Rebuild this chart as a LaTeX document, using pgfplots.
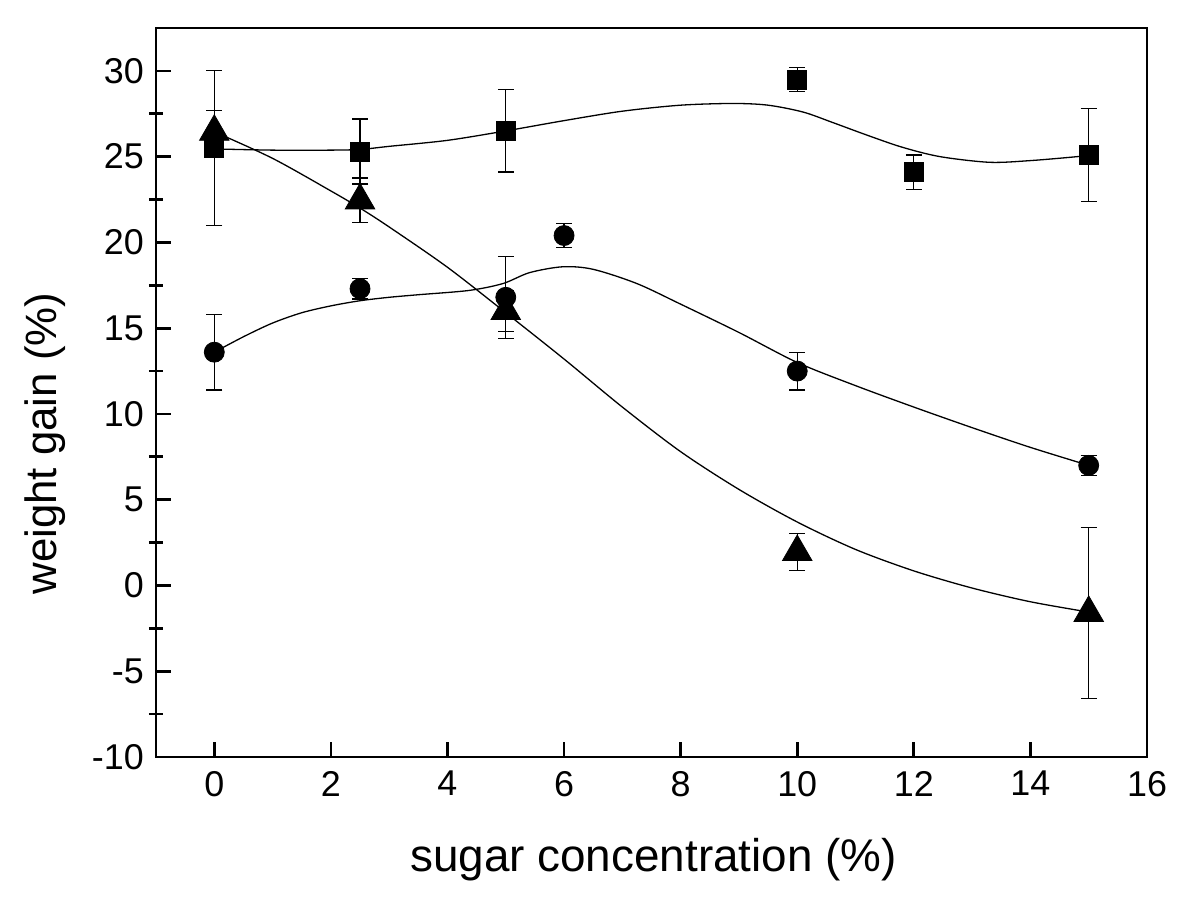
\documentclass[border=0pt]{standalone}
\usepackage{fontspec}
\setmainfont{Liberation Sans}
\usepackage{pgfplots}
\usepackage{pgfplotstable}
\pgfplotsset{compat=1.18}

% measured points: x  y  error
\pgfplotstableread{
x y e
0 25.5 4.5
2.5 25.3 1.9
5 26.5 2.4
10 29.5 0.7
12 24.1 1.0
15 25.1 2.7
}\squares
\pgfplotstableread{
x y e
0 13.6 2.2
2.5 17.3 0.6
5 16.8 2.4
6 20.4 0.7
10 12.5 1.1
15 7.0 0.6
}\circles
\pgfplotstableread{
x y e
0 26.45 1.25
2.5 22.45 1.3
5 16.0 1.2
10 1.95 1.1
15 -1.6 5.0
}\triangles

% smoothed curves
\pgfplotstableread{
x y
0 25.45
1 25.38
2 25.38
2.5 25.42
3 25.6
4 25.95
5 26.5
6 27.1
7 27.65
8 28.0
8.9 28.1
9.5 28.0
10.1 27.6
10.6 27.0
11.2 26.25
11.8 25.55
12.45 25.0
13.3 24.67
14 24.77
14.8 25.0
15 25.1
}\squarecurve
\pgfplotstableread{
x y
0 13.6
0.5 14.5
1 15.3
1.5 15.9
2 16.3
2.5 16.6
3 16.8
3.5 16.95
4.37 17.2
4.95 17.6
5.41 18.24
5.98 18.58
6.5 18.43
7.25 17.6
8 16.4
9 14.75
10 13.0
11 11.65
12 10.4
13 9.2
14 8.05
15 7.0
}\circlecurve
\pgfplotstableread{
x y
0 26.45
1 24.9
2 23.0
2.5 22.0
3 20.9
4 18.55
5 15.9
6 13.2
7 10.4
8 7.8
9 5.6
10 3.7
11 2.1
12 0.85
13 -0.15
14 -0.95
15 -1.55
}\trianglecurve

\begin{document}
\begin{tikzpicture}
\pgfplotsset{
  common/.style={
    scale only axis, width=495.5bp, height=364.5bp,
    xmin=-1, xmax=16, ymin=-10, ymax=32.5,
    axis line style={line width=1.35bp},
    every tick/.style={line width=1.35bp, black},
  }
}
\begin{axis}[
  common,
  name=main,
  xtick={0,2,...,16}, ytick={-10,-5,...,30},
  minor ytick={-7.5,-2.5,...,27.5},
  tick align=inside,
  xtick pos=left, ytick pos=left,
  major tick length=7.5bp, minor tick length=7bp,
  minor y tick style={xshift=-3.5bp},
  /pgf/number format/assume math mode=true,
  tick label style={font=\fontsize{18}{21}\selectfont},
  xticklabel style={yshift=-3.5bp},
  yticklabel style={xshift=-2.6bp},
  xlabel={sugar concentration (\%)},
  ylabel={weight gain (\%)},
  xlabel style={font=\fontsize{23}{27}\selectfont, at={(axis description cs:0.502,0)}, anchor=base, yshift=-57bp},
  ylabel style={font=\fontsize{22}{26}\selectfont, at={(axis description cs:-0.112,0.43)}, anchor=center, rotate=0},
  clip=false,
]
% curves
\addplot[black, line width=0.65bp, smooth, tension=0.5] table[x=x,y=y] {\squarecurve};
\addplot[black, line width=0.65bp, smooth, tension=0.5] table[x=x,y=y] {\circlecurve};
\addplot[black, line width=0.65bp, smooth, tension=0.5] table[x=x,y=y] {\trianglecurve};
% data with error bars
\addplot[only marks, mark=square*, mark size=4.75bp, black,
  error bars/.cd, y dir=both, y explicit,
  error bar style={line width=0.6bp, black},
  error mark options={rotate=90, mark size=4bp, line width=0.6bp, black}]
  table[x=x, y=y, y error=e] {\squares};
\addplot[only marks, mark=*, mark size=5bp, black,
  error bars/.cd, y dir=both, y explicit,
  error bar style={line width=0.6bp, black},
  error mark options={rotate=90, mark size=4bp, line width=0.6bp, black}]
  table[x=x, y=y, y error=e] {\circles};
\addplot[only marks, mark=triangle*, mark size=8.5bp, black,
  error bars/.cd, y dir=both, y explicit,
  error bar style={line width=0.6bp, black},
  error mark options={rotate=90, mark size=4bp, line width=0.6bp, black}]
  table[x=x, y=y, y error=e] {\triangles};
\end{axis}
% short minor ticks on the x axis
\begin{axis}[
  common,
  axis x line*=bottom, axis y line=none,
  xtick=\empty, minor xtick={1,3,...,15},
  tick align=inside, minor tick length=3.5bp,
]
\end{axis}
\pgfresetboundingbox
\path[use as bounding box] ([xshift=-78bp,yshift=-74.5bp]main.south west) rectangle ([xshift=26.5bp,yshift=14bp]main.north east);
\end{tikzpicture}
\end{document}
